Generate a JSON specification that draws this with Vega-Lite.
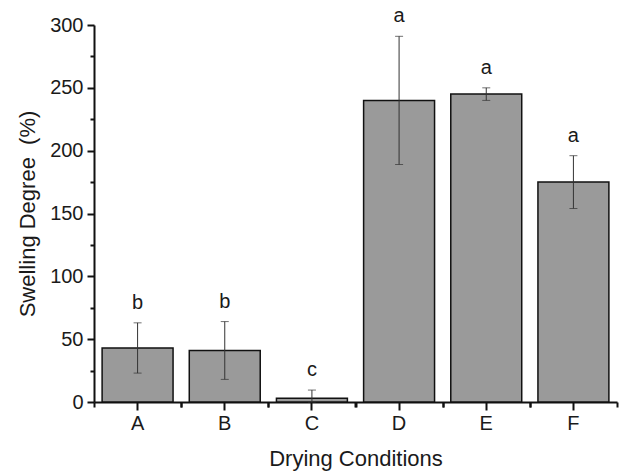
{
  "$schema": "https://vega.github.io/schema/vega-lite/v6.json",
  "width": 523,
  "height": 377,
  "autosize": "none",
  "padding": {"left": 94, "top": 25, "right": 5, "bottom": 69},
  "background": "white",
  "config": {
    "view": {"stroke": null},
    "font": "Liberation Sans",
    "axis": {"grid": false, "domainColor": "#111", "tickColor": "#111", "labelColor": "#1a1a1a", "titleColor": "#1a1a1a", "labelFont": "Liberation Sans", "titleFont": "Liberation Sans", "titleFontWeight": "normal"}
  },
  "data": {
    "values": [
      {"cond": "A", "mean": 43, "lower": 23, "upper": 63, "letter": "b"},
      {"cond": "B", "mean": 41, "lower": 18, "upper": 64, "letter": "b"},
      {"cond": "C", "mean": 3, "lower": 0, "upper": 9.5, "letter": "c"},
      {"cond": "D", "mean": 240, "lower": 189, "upper": 291, "letter": "a"},
      {"cond": "E", "mean": 245, "lower": 240, "upper": 250, "letter": "a"},
      {"cond": "F", "mean": 175, "lower": 154, "upper": 196, "letter": "a"}
    ]
  },
  "resolve": {"axis": {"x": "independent", "y": "independent"}},
  "layer": [
    {
      "mark": {"type": "bar", "fill": "#9a9a9a", "stroke": "#111", "strokeWidth": 1.5},
      "encoding": {
        "x": {"field": "cond", "type": "nominal", "sort": null,
          "scale": {"paddingInner": 0.186, "paddingOuter": 0.093},
          "axis": {"orient": "bottom", "title": "Drying Conditions", "labelAngle": 0, "labelFontSize": 20, "titleFontSize": 22, "tickSize": 8, "tickWidth": 2, "domainWidth": 2, "labelPadding": 3, "titlePadding": 15}},
        "y": {"field": "mean", "type": "quantitative",
          "scale": {"domain": [0, 300], "nice": false, "zero": true},
          "axis": {"orient": "left", "title": "Swelling Degree \u00a0(%)", "values": [0, 50, 100, 150, 200, 250, 300], "labelFontSize": 20, "titleFontSize": 22, "tickSize": 7, "tickWidth": 2, "domainWidth": 2, "labelPadding": 4, "titlePadding": 10}}
      }
    },
    {
      "mark": {"type": "rule", "color": "#333", "strokeWidth": 1},
      "encoding": {
        "x": {"field": "cond", "type": "nominal", "sort": null,
          "axis": {"orient": "bottom", "title": null, "labels": false, "domain": false, "tickSize": 5, "tickWidth": 2, "tickOffset": -43.58}},
        "y": {"field": "lower", "type": "quantitative",
          "axis": {"orient": "left", "title": null, "labels": false, "domain": false, "values": [25, 75, 125, 175, 225, 275], "tickSize": 4, "tickWidth": 2}},
        "y2": {"field": "upper"}
      }
    },
    {
      "mark": {"type": "tick", "color": "#333", "size": 8, "thickness": 1, "orient": "horizontal"},
      "encoding": {
        "x": {"field": "cond", "type": "nominal", "sort": null,
          "axis": {"orient": "bottom", "title": null, "labels": false, "domain": false, "tickSize": 5, "tickWidth": 2, "tickOffset": 43.58}},
        "y": {"field": "upper", "type": "quantitative", "axis": null}
      }
    },
    {
      "mark": {"type": "tick", "color": "#333", "size": 8, "thickness": 1, "orient": "horizontal"},
      "encoding": {
        "x": {"field": "cond", "type": "nominal", "sort": null, "axis": null},
        "y": {"field": "lower", "type": "quantitative", "axis": null}
      }
    },
    {
      "mark": {"type": "text", "dy": -20, "fontSize": 20, "baseline": "middle", "color": "#1a1a1a", "font": "Liberation Sans"},
      "encoding": {
        "x": {"field": "cond", "type": "nominal", "sort": null, "axis": null},
        "y": {"field": "upper", "type": "quantitative", "axis": null},
        "text": {"field": "letter"}
      }
    }
  ]
}
